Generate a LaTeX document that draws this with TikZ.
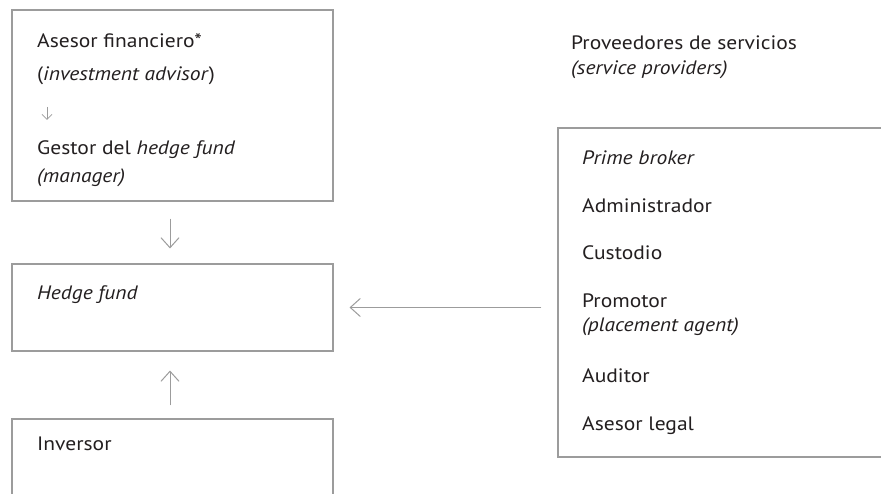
\documentclass[tikz,border=0pt]{standalone}
\usepackage{fontspec}
\setmainfont{PT Sans}[FakeStretch=1.11]
\usetikzlibrary{arrows.meta,calc}
\definecolor{txt}{HTML}{231F20}
\definecolor{ln}{HTML}{9C9C9C}
\tikzset{
  box/.style={draw=ln, line width=1.1pt, rectangle, inner sep=0pt},
  lbl/.style={anchor=base west, inner sep=0pt, text=txt, font=\fontsize{19.4}{23}\selectfont},
  conn/.style={draw=ln, line width=1pt, -{Straight Barb[length=10pt,width=18pt,line width=1pt]}},
  small/.style={draw=ln, line width=0.8pt, -{Straight Barb[length=5pt,width=10pt,line width=0.8pt]}}
}
\begin{document}
\begin{tikzpicture}[x=1pt,y=-1pt]
\clip (0,0) rectangle (881,494);
\fill[white] (0,0) rectangle (881,494);
% boxes
\node[box, minimum width=321pt, minimum height=191pt] (adv) at (172.5,105.5) {};
\node[box, minimum width=321pt, minimum height=87pt] (hf) at (172.5,307.5) {};
\node[box, minimum width=321pt, minimum height=120pt] (inv) at (172.5,479) {};
\node[box, minimum width=700pt, minimum height=329pt] (sp) at (908,292.5) {};
% texts left
\node[lbl] (t1) at (37,48) {Asesor financiero*};
\node[lbl] (t2) at (37,81) {(\textit{investment advisor})};
\coordinate (sa) at (47,107);
\coordinate (sb) at (47,120);
\node[lbl] (t3) at (37,155) {Gestor del \textit{hedge fund}};
\node[lbl] (t4) at (37,183) {\textit{(manager)}};
\node[lbl] (t5) at (37,300) {\textit{Hedge fund}};
\node[lbl] (t6) at (37,450) {Inversor};
% texts right
\node[lbl] (p1) at (571,50) {Proveedores de servicios};
\node[lbl] (p2) at (571,75) {\textit{(service providers)}};
\node[lbl] (r1) at (582,165) {\textit{Prime broker}};
\node[lbl] (r2) at (582,213) {Administrador};
\node[lbl] (r3) at (582,260) {Custodio};
\node[lbl] (r4) at (582,308) {Promotor};
\node[lbl] (r5) at (582,332) {\textit{(placement agent)}};
\node[lbl] (r6) at (582,382) {Auditor};
\node[lbl] (r7) at (582,430) {Asesor legal};
% connectors
\draw[small] (sa) -- (sb);
\draw[conn] ($(adv.south)+(-2.5,17)$) -- ($(hf.north)+(-2.5,-15)$);
\draw[conn] ($(inv.north)+(-2.5,-13)$) -- ($(hf.south)+(-2.5,19)$);
\draw[conn] ($(sp.west |- hf.east)+(-16,0)$) -- ($(hf.east)+(16,0)$);
\end{tikzpicture}
\end{document}
